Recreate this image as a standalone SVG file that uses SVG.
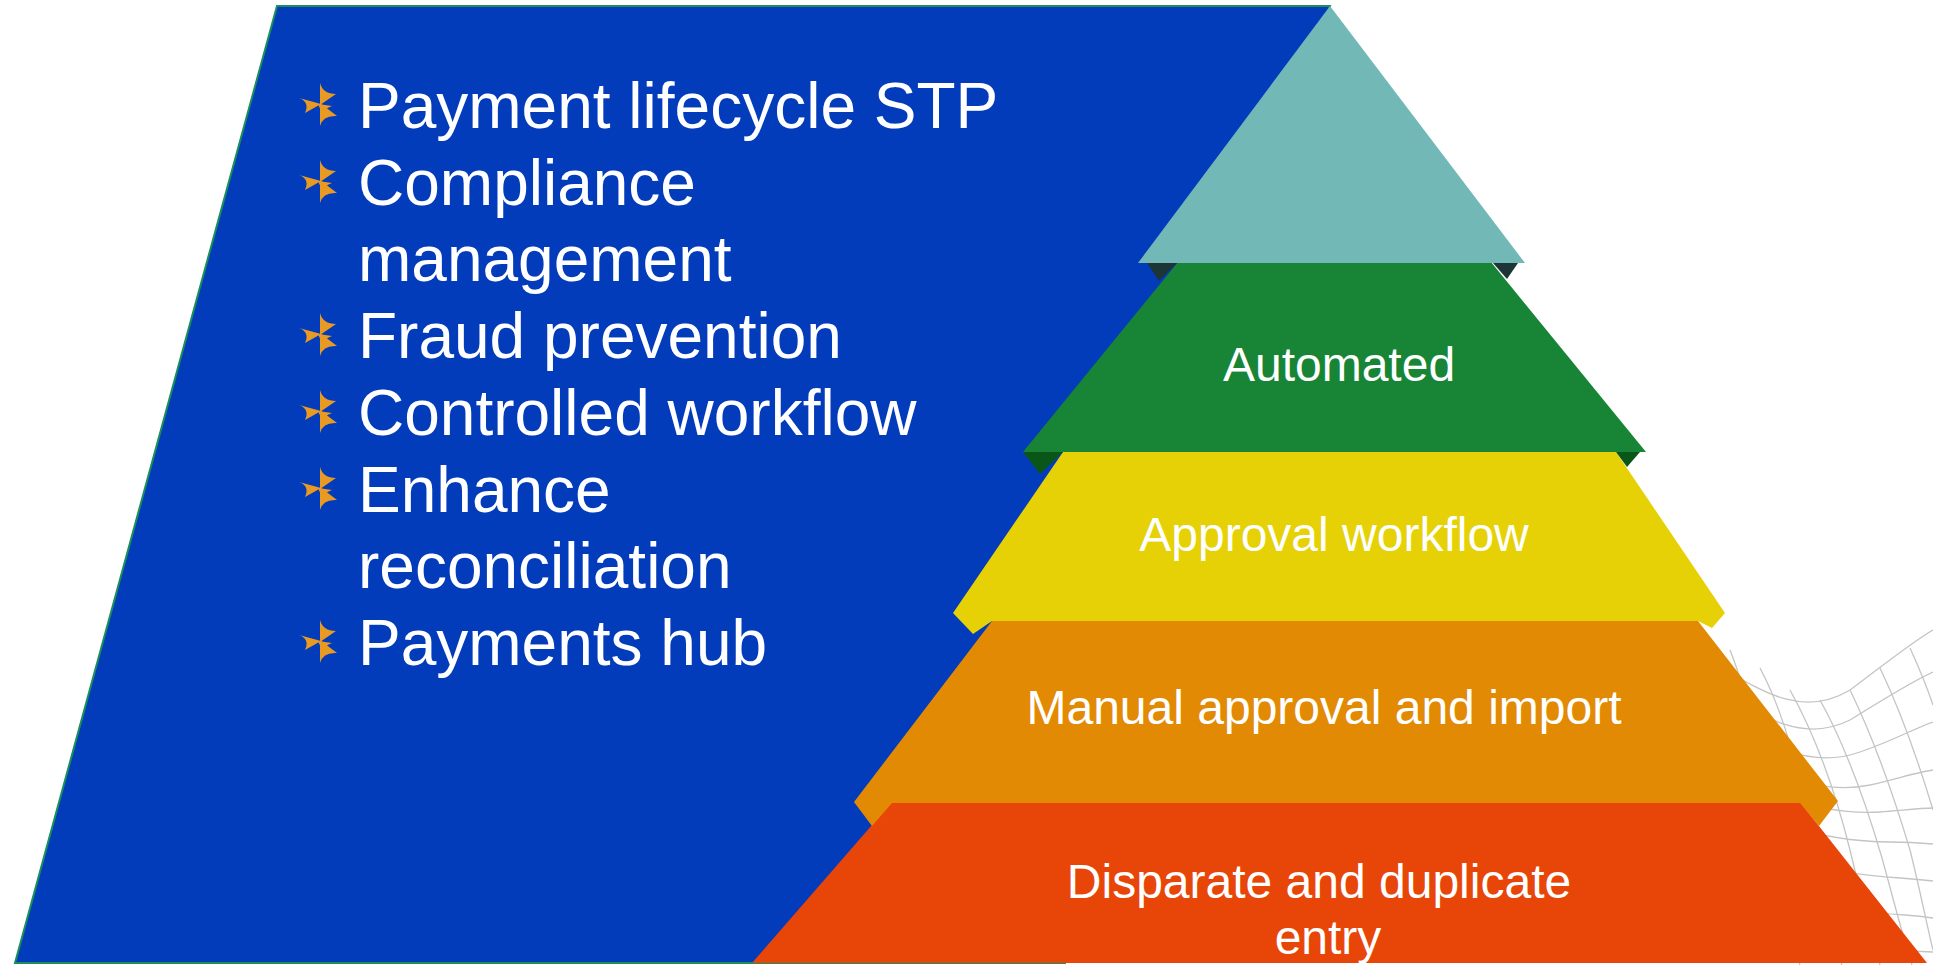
<svg xmlns="http://www.w3.org/2000/svg" width="1933" height="965" viewBox="0 0 1933 965">
<defs>
<style>
.bt{font-family:"Liberation Sans",Arial,sans-serif;font-size:64px;fill:#ffffff}
.pt{font-family:"Liberation Sans",Arial,sans-serif;font-size:48px;fill:#ffffff;text-anchor:middle}
.mesh{fill:none;stroke:#c4c4c4;stroke-width:1.3}
.star{fill:#e89a23}
</style>
<g id="bullet">
<path class="star" d="M0,1 L0,-21 Q3,-10 16,-10 Z"/>
<path class="star" d="M1,0 L-21,-6 Q-10,-2 -15,9 Z"/>
<path class="star" d="M0,-1 L0,22 Q3,11 17,12 Z"/>
<path class="star" d="M-2,0 L12,2 Q6,4 2,9 Z"/>
</g>
</defs>
<rect width="1933" height="965" fill="#ffffff"/>

<g id="mesh">
<path class="mesh" d="M1700,655 C1760,690 1800,720 1850,690 C1890,660 1915,640 1933,630"/>
<path class="mesh" d="M1705,680 C1760,715 1800,745 1850,720 C1890,695 1915,680 1933,672"/>
<path class="mesh" d="M1712,710 C1765,745 1810,770 1860,752 C1895,740 1915,728 1933,722"/>
<path class="mesh" d="M1720,740 C1770,775 1820,795 1870,785 C1900,778 1918,772 1933,770"/>
<path class="mesh" d="M1728,775 C1780,800 1830,815 1880,812 C1905,810 1920,808 1933,808"/>
<path class="mesh" d="M1738,810 C1790,830 1840,842 1890,842 C1910,842 1922,843 1933,844"/>
<path class="mesh" d="M1750,850 C1800,865 1850,875 1900,878 C1915,879 1925,880 1933,881"/>
<path class="mesh" d="M1765,895 C1815,905 1860,912 1905,915 C1918,916 1926,917 1933,918"/>
<path class="mesh" d="M1780,940 C1830,946 1870,950 1933,952"/>
<path class="mesh" d="M1730,650 C1750,700 1760,760 1770,830 C1778,890 1790,940 1800,965"/>
<path class="mesh" d="M1760,668 C1785,715 1800,775 1812,840 C1822,895 1832,940 1842,965"/>
<path class="mesh" d="M1790,690 C1815,735 1835,790 1850,850 C1862,900 1872,940 1880,965"/>
<path class="mesh" d="M1820,700 C1845,745 1865,800 1882,858 C1895,905 1905,945 1912,965"/>
<path class="mesh" d="M1850,690 C1872,735 1892,790 1910,850 C1920,890 1928,930 1933,950"/>
<path class="mesh" d="M1880,668 C1900,710 1918,760 1933,810"/>
<path class="mesh" d="M1910,648 C1920,670 1928,690 1933,705"/>
</g>

<g id="blue-panel">
<polygon points="277,6 1330,6 1065,963 15,963" fill="#033cbb" stroke="#1a8f5a" stroke-width="2"/>
</g>

<g id="bullets">
<use href="#bullet" x="320" y="104"/>
<use href="#bullet" x="320" y="181"/>
<use href="#bullet" x="320" y="334"/>
<use href="#bullet" x="320" y="411"/>
<use href="#bullet" x="320" y="488"/>
<use href="#bullet" x="320" y="641"/>
</g>
<g id="list-text">
<text class="bt" x="358" y="128">Payment lifecycle STP</text>
<text class="bt" x="358" y="205">Compliance</text>
<text class="bt" x="358" y="281">management</text>
<text class="bt" x="358" y="358">Fraud prevention</text>
<text class="bt" x="358" y="435">Controlled workflow</text>
<text class="bt" x="358" y="512">Enhance</text>
<text class="bt" x="358" y="588">reconciliation</text>
<text class="bt" x="358" y="665">Payments hub</text>
</g>

<g id="tier-red">
<polygon points="892,802 1800,802 1927,963 752,963" fill="#e84509"/>
<text class="pt" x="1319" y="898">Disparate and duplicate</text>
<text class="pt" x="1328" y="954">entry</text>
</g>
<g id="tier-orange">
<polygon points="992,621 1698,621 1838,801 1819,826 1800,803 892,803 872,826 854,802" fill="#e38a05"/>
<text class="pt" x="1324" y="724">Manual approval and import</text>
</g>
<g id="tier-yellow">
<polygon points="1063,452 1616,452 1725,613 1712,628 1698,621 992,621 973,634 953,613" fill="#e6d106"/>
<text class="pt" x="1334" y="551">Approval workflow</text>
</g>
<g id="tier-green">
<polygon points="1178,262 1491,262 1646,452 1023,452" fill="#178535"/>
<polygon points="1023,452 1063,452 1040,474" fill="#0a5518"/>
<polygon points="1616,452 1640,452 1627,467" fill="#0a5518"/>
<text class="pt" x="1339" y="381">Automated</text>
</g>
<g id="tier-teal">
<polygon points="1330,6 1525,263 1138,263" fill="#72b8b6"/>
<polygon points="1147,263 1177,263 1159,281" fill="#1d3537"/>
<polygon points="1493,263 1518,263 1507,279" fill="#1d3537"/>
</g>
</svg>
